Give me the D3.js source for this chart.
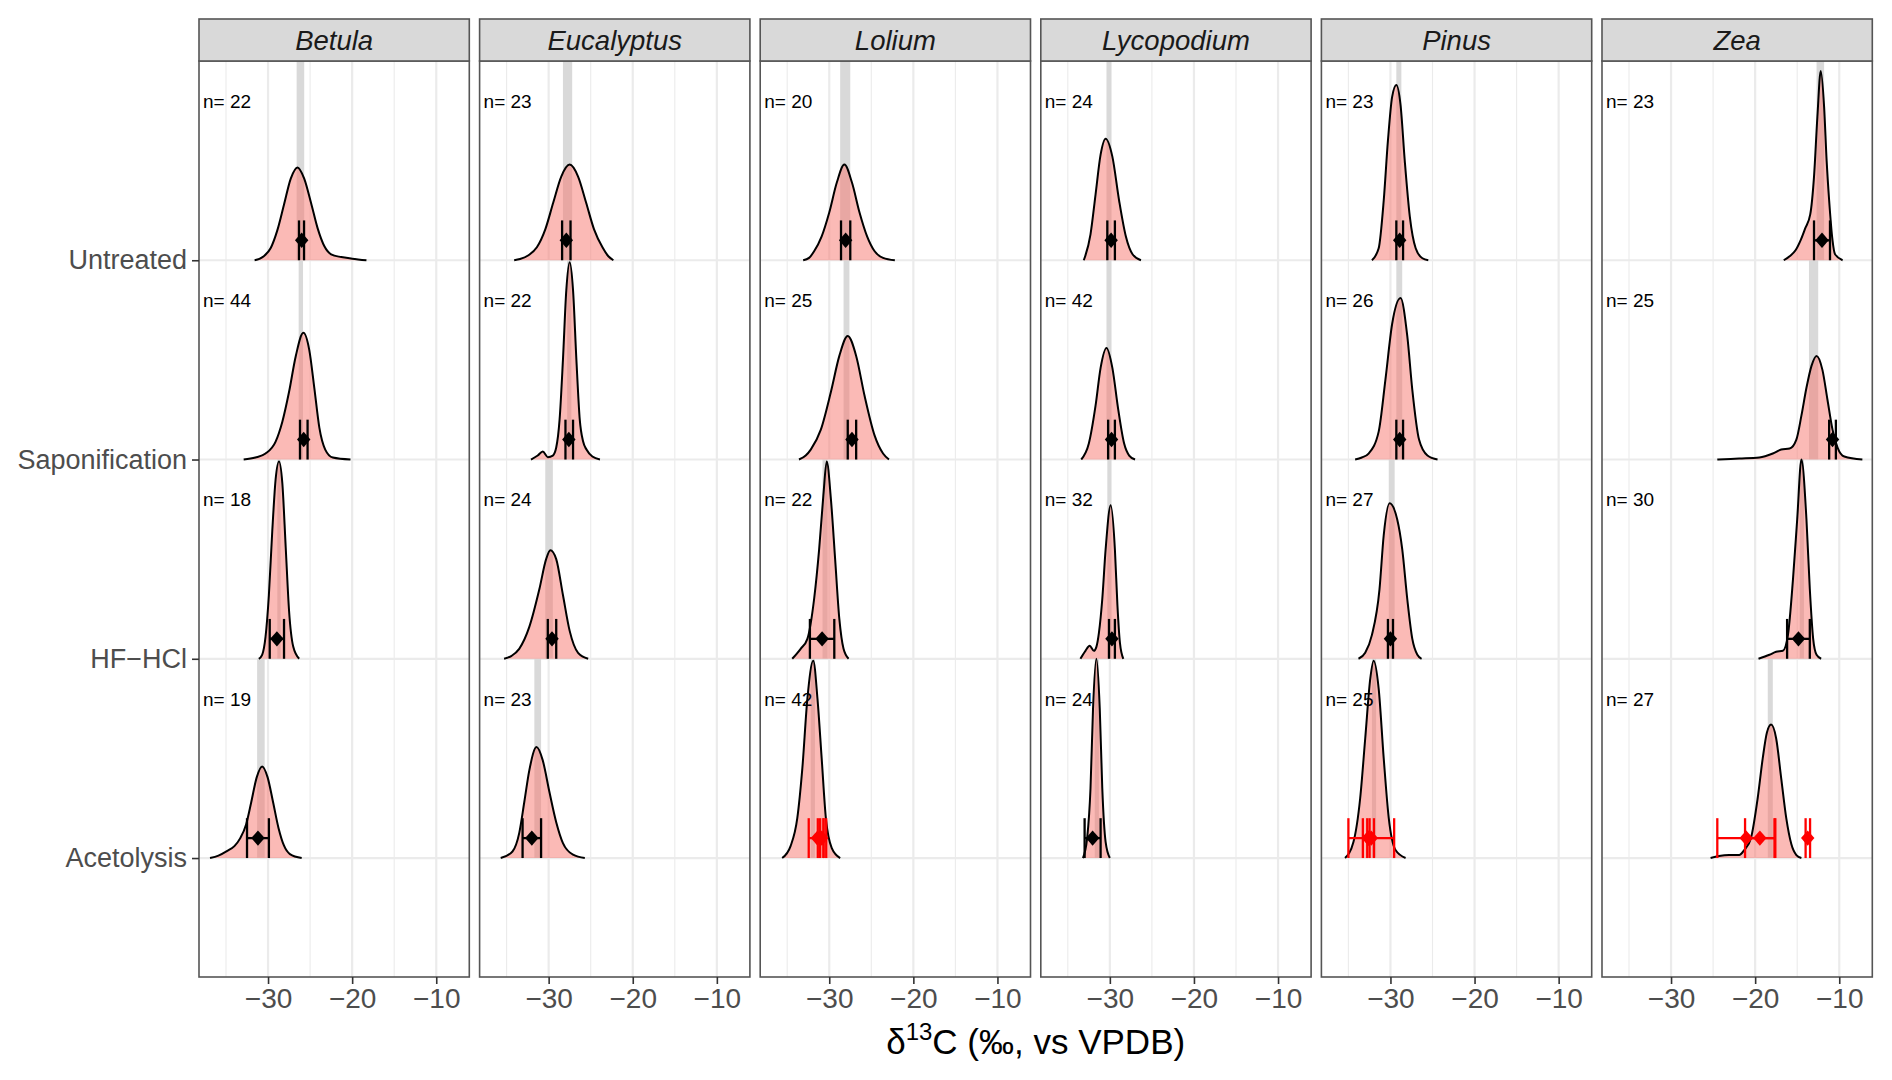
<!DOCTYPE html>
<html>
<head>
<meta charset="utf-8">
<script src="https://cdn.jsdelivr.net/npm/d3@7"></script>
<style>
  body { margin: 0; background: #fff; }
  text { font-family: "Liberation Sans", Arial, sans-serif; }
</style>
</head>
<body>
<div id="chart"></div>
<script>
// facets and rows
const panels = ["Betula", "Eucalyptus", "Lolium", "Lycopodium", "Pinus", "Zea"];
const treatments = ["Untreated", "Saponification", "HF\u2212HCl", "Acetolysis"];
const xTicks = [-30, -20, -10];

// sample sizes, per panel, per treatment
const nCounts = [
  [22, 44, 18, 19],
  [23, 22, 24, 23],
  [20, 25, 22, 42],
  [24, 42, 32, 24],
  [23, 26, 27, 25],
  [23, 25, 30, 27]
];

// grey reference bands [xmin, xmax]
const refBands = [
  [[-26.6, -25.7], [-26.36, -25.84], [-28.9, -28.5], [-31.3, -30.4]],
  [[-28.3, -27.2], [-27.8, -27.3], [-30.4, -29.5], [-31.7, -30.9]],
  [[-28.7, -27.5], [-28.3, -27.6], [-30.8, -30.2], [-32.2, -31.7]],
  [[-30.4, -29.8], [-30.4, -29.8], [-30.3, -29.8], [-31.8, -31.3]],
  [[-29.3, -28.7], [-29.3, -28.6], [-30.2, -29.5], [-32.2, -31.7]],
  [[-12.7, -11.8], [-13.6, -12.5], [-14.7, -14.2], [-18.5, -17.9]]
];

// mean +/- error [lo, mean, hi]; null where only flagged values exist
const meanBars = [
  [[-26.32, -26.0, -25.72], [-26.2, -25.76, -25.3], [-29.8, -28.95, -28.1], [-32.5, -31.2, -29.9]],
  [[-28.4, -27.9, -27.4], [-28.0, -27.6, -27.1], [-30.1, -29.6, -29.1], [-33.1, -32.0, -30.9]],
  [[-28.6, -28.05, -27.5], [-27.8, -27.3, -26.8], [-32.3, -30.85, -29.4], null],
  [[-30.3, -29.85, -29.4], [-30.2, -29.8, -29.4], [-30.1, -29.75, -29.4], [-33.0, -32.05, -31.1]],
  [[-29.3, -28.9, -28.5], [-29.3, -28.9, -28.5], [-30.3, -30.0, -29.7], null],
  [[-13.0, -12.05, -11.1], [-11.2, -10.8, -10.4], [-16.2, -14.85, -13.5], null]
];

// flagged (red) values, [panel, treatment, lo, mean, hi]
const flaggedBars = [
  [2, 3, -32.44, -31.4, -30.36],
  [2, 3, -31.36, -31.02, -30.68],
  [2, 3, -31.08, -30.88, -30.68],
  [4, 3, -35.0, -32.28, -29.56],
  [4, 3, -33.28, -32.62, -31.96],
  [4, 3, -32.76, -32.62, -32.48],
  [5, 3, -24.5, -21.06, -17.6],
  [5, 3, -21.2, -19.44, -17.7],
  [5, 3, -14.0, -13.75, -13.47]
];

// density ridges: [d13C, height in row units]
const ridgeBetula = [
  [[-31.6,0],[-30.5,0.02],[-29.7,0.06],[-28.9,0.15],[-28.1,0.28],[-27.3,0.41],[-26.5,0.466],[-25.7,0.41],[-24.9,0.29],[-24.1,0.16],[-23.3,0.07],[-22.5,0.03],[-21.3,0.016],[-20.0,0.008],[-18.3,0]],
  [[-32.9,0],[-31.5,0.01],[-30.3,0.03],[-29.1,0.09],[-28.3,0.19],[-27.5,0.34],[-26.7,0.52],[-25.8,0.636],[-25.1,0.55],[-24.5,0.36],[-23.9,0.16],[-23.2,0.05],[-22.3,0.01],[-20.2,0]],
  [[-31.1,0],[-30.7,0.02],[-30.3,0.11],[-29.9,0.32],[-29.5,0.64],[-29.1,0.9],[-28.7,0.99],[-28.3,0.88],[-27.9,0.56],[-27.5,0.24],[-27.0,0.06],[-26.3,0]],
  [[-36.9,0],[-35.9,0.012],[-34.9,0.035],[-34.0,0.06],[-33.3,0.1],[-32.6,0.17],[-32.0,0.28],[-31.35,0.405],[-30.7,0.46],[-30.05,0.405],[-29.4,0.28],[-28.75,0.15],[-28.1,0.062],[-27.4,0.02],[-26.0,0]]
];
const ridgeEucalyptus = [
  [[-34.1,0],[-33.4,0.006],[-32.4,0.025],[-31.4,0.065],[-30.4,0.155],[-29.45,0.29],[-28.5,0.42],[-27.5,0.48],[-26.5,0.42],[-25.55,0.29],[-24.6,0.155],[-23.6,0.065],[-22.9,0.02],[-22.3,0]],
  [[-32.1,0],[-31.3,0.02],[-30.7,0.04],[-30.1,0.012],[-29.5,0.02],[-29.1,0.06],[-28.7,0.2],[-28.3,0.5],[-27.9,0.85],[-27.5,0.99],[-27.1,0.85],[-26.7,0.5],[-26.3,0.2],[-25.9,0.09],[-25.5,0.05],[-24.8,0.015],[-23.9,0]],
  [[-35.3,0],[-34.4,0.015],[-33.5,0.05],[-32.3,0.16],[-31.1,0.35],[-30.3,0.5],[-29.8,0.545],[-29.1,0.5],[-28.3,0.32],[-27.5,0.14],[-26.5,0.03],[-25.3,0]],
  [[-35.7,0],[-34.3,0.033],[-33.5,0.125],[-32.9,0.28],[-32.3,0.44],[-31.44,0.557],[-30.7,0.49],[-29.9,0.33],[-29.1,0.18],[-28.3,0.075],[-27.1,0.017],[-25.7,0]]
];
const ridgeLolium = [
  [[-33.1,0],[-32.4,0.012],[-31.8,0.045],[-30.9,0.12],[-30.0,0.24],[-29.1,0.39],[-28.2,0.48],[-27.3,0.39],[-26.4,0.24],[-25.5,0.12],[-24.6,0.045],[-23.6,0.012],[-22.2,0]],
  [[-33.6,0],[-32.8,0.02],[-32.2,0.05],[-31.0,0.15],[-29.8,0.34],[-28.8,0.52],[-27.8,0.62],[-26.8,0.52],[-25.8,0.32],[-24.6,0.12],[-23.6,0.03],[-22.9,0]],
  [[-34.4,0],[-33.4,0.05],[-32.6,0.1],[-31.8,0.3],[-31.2,0.55],[-30.7,0.82],[-30.3,0.99],[-29.8,0.8],[-29.3,0.5],[-28.8,0.2],[-28.3,0.05],[-27.7,0]],
  [[-35.6,0],[-34.6,0.06],[-33.8,0.2],[-33.2,0.45],[-32.6,0.8],[-31.9,0.99],[-31.4,0.8],[-30.9,0.5],[-30.4,0.2],[-29.7,0.05],[-28.7,0]]
];
const ridgeLycopodium = [
  [[-33.1,0],[-32.3,0.13],[-31.7,0.33],[-31.1,0.53],[-30.5,0.61],[-29.7,0.52],[-28.9,0.3],[-28.1,0.12],[-27.3,0.03],[-26.3,0]],
  [[-33.4,0],[-32.5,0.08],[-31.7,0.27],[-31.1,0.46],[-30.4,0.56],[-29.7,0.46],[-29.0,0.25],[-28.3,0.08],[-27.7,0.02],[-27.0,0]],
  [[-33.5,0],[-32.9,0.04],[-32.4,0.065],[-31.9,0.04],[-31.6,0.06],[-31.3,0.13],[-30.9,0.3],[-30.5,0.55],[-29.9,0.77],[-29.4,0.55],[-29.1,0.27],[-28.8,0.08],[-28.4,0]],
  [[-33.2,0],[-32.7,0.1],[-32.3,0.35],[-32.0,0.75],[-31.6,1.0],[-31.2,0.75],[-30.9,0.35],[-30.5,0.08],[-30.0,0]]
];
const ridgePinus = [
  [[-32.2,0],[-31.4,0.06],[-30.8,0.3],[-30.3,0.6],[-29.8,0.82],[-29.3,0.88],[-28.8,0.78],[-28.3,0.5],[-27.7,0.22],[-27.0,0.06],[-26.2,0.01],[-25.5,0]],
  [[-34.2,0],[-33.4,0.01],[-32.6,0.03],[-31.4,0.14],[-30.6,0.4],[-29.8,0.68],[-28.8,0.81],[-28.0,0.62],[-27.4,0.35],[-26.6,0.1],[-25.6,0.02],[-24.4,0]],
  [[-33.8,0],[-33.0,0.03],[-32.2,0.12],[-31.3,0.35],[-30.8,0.62],[-30.1,0.78],[-29.2,0.7],[-28.6,0.55],[-28.0,0.3],[-27.4,0.1],[-26.8,0.02],[-26.3,0]],
  [[-35.4,0],[-34.4,0.08],[-33.6,0.3],[-33.0,0.6],[-32.4,0.9],[-32.0,0.99],[-31.4,0.85],[-30.8,0.5],[-30.2,0.2],[-29.4,0.04],[-28.2,0]]
];
const ridgeZea = [
  [[-16.6,0],[-15.9,0.02],[-15.2,0.05],[-14.6,0.1],[-14.05,0.16],[-13.45,0.23],[-13.0,0.42],[-12.6,0.72],[-12.2,0.95],[-11.8,0.77],[-11.5,0.5],[-11.2,0.3],[-10.8,0.1],[-10.5,0.03],[-9.6,0]],
  [[-24.5,0],[-21.9,0.005],[-19.5,0.01],[-17.9,0.03],[-16.9,0.05],[-15.9,0.055],[-15.1,0.1],[-14.5,0.22],[-13.9,0.36],[-13.3,0.47],[-12.7,0.52],[-12.0,0.45],[-11.4,0.3],[-10.8,0.15],[-10.2,0.06],[-9.4,0.015],[-7.25,0]],
  [[-19.6,0],[-18.3,0.02],[-17.5,0.035],[-16.7,0.04],[-16.1,0.12],[-15.5,0.4],[-15.0,0.7],[-14.5,1.0],[-13.9,0.7],[-13.5,0.35],[-13.1,0.1],[-12.7,0.02],[-12.15,0]],
  [[-25.3,0],[-24.3,0.01],[-23.1,0.015],[-21.9,0.015],[-21.3,0.04],[-20.5,0.1],[-19.7,0.3],[-19.1,0.5],[-18.6,0.63],[-18.1,0.67],[-17.5,0.6],[-16.9,0.4],[-16.3,0.2],[-15.7,0.07],[-15.1,0.015],[-14.5,0]]
];
const ridges = [ridgeBetula, ridgeEucalyptus, ridgeLolium, ridgeLycopodium, ridgePinus, ridgeZea];

function drawChart() {
  var width = 1892, height = 1080;
  var stripTop = 19, panelTop = 61, panelBottom = 977;
  var panelLeft = 199, panelW = 270.3, panelStep = 280.6;
  var panelH = panelBottom - panelTop;

  var svg = d3.select("#chart").append("svg")
    .attr("width", width)
    .attr("height", height);

  svg.append("rect").attr("width", width).attr("height", height).attr("fill", "#fff");

  var x = d3.scaleLinear().domain([-38.21, -6.07]).range([0, panelW]);
  var y = d3.scaleLinear().domain([0.403, 5]).range([panelH, 0]);
  // Untreated sits on top
  var rowPos = function(i) { return treatments.length - i; };

  var minorTicks = x.ticks(7).filter(function(t) { return xTicks.indexOf(t) < 0; });

  var area = d3.area()
    .curve(d3.curveMonotoneX)
    .x(function(d) { return x(d[0]); });
  var line = d3.line()
    .curve(d3.curveMonotoneX)
    .x(function(d) { return x(d[0]); });

  var diamond = d3.symbol().type(d3.symbolDiamond2).size(115);

  panels.forEach(function(name, p) {
    var g = svg.append("g")
      .attr("transform", "translate(" + (panelLeft + p * panelStep) + "," + panelTop + ")");

    // grid
    g.selectAll(".minor").data(minorTicks).enter().append("line")
      .attr("x1", function(d) { return x(d); }).attr("x2", function(d) { return x(d); })
      .attr("y1", 0).attr("y2", panelH)
      .attr("stroke", "#ebebeb").attr("stroke-width", 1.1);
    g.selectAll(".major").data(xTicks).enter().append("line")
      .attr("x1", function(d) { return x(d); }).attr("x2", function(d) { return x(d); })
      .attr("y1", 0).attr("y2", panelH)
      .attr("stroke", "#ebebeb").attr("stroke-width", 2.2);
    g.selectAll(".hgrid").data(treatments).enter().append("line")
      .attr("x1", 0).attr("x2", panelW)
      .attr("y1", function(d, i) { return y(rowPos(i)); })
      .attr("y2", function(d, i) { return y(rowPos(i)); })
      .attr("stroke", "#ebebeb").attr("stroke-width", 2.2);

    // reference bands
    g.selectAll(".band").data(refBands[p]).enter().append("rect")
      .attr("x", function(d) { return x(d[0]); })
      .attr("width", function(d) { return x(d[1]) - x(d[0]); })
      .attr("y", function(d, i) { return y(rowPos(i) + 1); })
      .attr("height", function(d, i) { return y(rowPos(i)) - y(rowPos(i) + 1); })
      .attr("fill", "#d9d9d9");

    // ridges, top row first so lower rows lie in front
    ridges[p].forEach(function(pts, i) {
      var pos = rowPos(i);
      area.y0(y(pos)).y1(function(d) { return y(pos + d[1]); });
      line.y(function(d) { return y(pos + d[1]); });
      g.append("path").datum(pts)
        .attr("d", area)
        .attr("fill", "#F8766D").attr("fill-opacity", 0.5);
      g.append("path").datum(pts)
        .attr("d", line)
        .attr("fill", "none").attr("stroke", "#000").attr("stroke-width", 2);
    });

    // error bars
    function errBar(b, i, colour) {
      var pos = rowPos(i);
      var eb = g.append("g").attr("stroke", colour).attr("stroke-width", 2.3);
      eb.append("line")
        .attr("x1", x(b[0])).attr("x2", x(b[2]))
        .attr("y1", y(pos + 0.1)).attr("y2", y(pos + 0.1));
      [b[0], b[2]].forEach(function(v) {
        eb.append("line")
          .attr("x1", x(v)).attr("x2", x(v))
          .attr("y1", y(pos)).attr("y2", y(pos + 0.2));
      });
      g.append("path")
        .attr("d", diamond)
        .attr("transform", "translate(" + x(b[1]) + "," + y(pos + 0.1) + ") scale(1,1.15)")
        .attr("fill", colour);
    }
    meanBars[p].forEach(function(b, i) { if (b) errBar(b, i, "#000"); });
    flaggedBars.filter(function(f) { return f[0] === p; }).forEach(function(f) {
      errBar([f[2], f[3], f[4]], f[1], "#ff0000");
    });

    // n labels
    g.selectAll(".nlab").data(nCounts[p]).enter().append("text")
      .attr("x", 4)
      .attr("y", function(d, i) { return y(rowPos(i) + 0.765); })
      .attr("font-size", 19)
      .attr("fill", "#000")
      .text(function(d) { return "n= " + d; });

    // panel border
    g.append("rect")
      .attr("width", panelW).attr("height", panelH)
      .attr("fill", "none").attr("stroke", "#555").attr("stroke-width", 1.6);

    // strip
    g.append("rect")
      .attr("y", stripTop - panelTop).attr("width", panelW).attr("height", panelTop - stripTop)
      .attr("fill", "#d9d9d9").attr("stroke", "#555").attr("stroke-width", 1.6);
    g.append("text")
      .attr("x", panelW / 2).attr("y", -11)
      .attr("text-anchor", "middle")
      .attr("font-size", 27.5).attr("font-style", "italic")
      .attr("fill", "#1a1a1a")
      .text(name);

    // x axis
    var xAxis = d3.axisBottom(x).tickValues(xTicks).tickSize(7).tickPadding(4)
      .tickFormat(function(d) { return String(d).replace("-", "\u2212"); });
    var ax = g.append("g").attr("transform", "translate(0," + panelH + ")").call(xAxis);
    ax.select(".domain").remove();
    ax.selectAll(".tick line").attr("stroke", "#333").attr("stroke-width", 1.6);
    ax.selectAll(".tick text")
      .attr("font-size", 28).attr("fill", "#4d4d4d")
      .attr("font-family", "Liberation Sans, Arial, sans-serif");

    // y axis on first panel
    if (p === 0) {
      var yAxis = d3.axisLeft(y).tickValues(treatments.map(function(t, i) { return rowPos(i); }))
        .tickSize(7).tickPadding(5)
        .tickFormat(function(d) { return treatments[treatments.length - d]; });
      var ay = g.append("g").call(yAxis);
      ay.select(".domain").remove();
      ay.selectAll(".tick line").attr("stroke", "#333").attr("stroke-width", 1.6);
      ay.selectAll(".tick text")
        .attr("font-size", 27).attr("fill", "#4d4d4d")
        .attr("font-family", "Liberation Sans, Arial, sans-serif");
    }
  });

  // axis title
  var title = svg.append("text")
    .attr("x", panelLeft + (5 * panelStep + panelW) / 2)
    .attr("y", 1054)
    .attr("text-anchor", "middle")
    .attr("font-size", 35)
    .attr("fill", "#000");
  title.append("tspan").text("\u03b4");
  title.append("tspan").attr("font-size", 24).attr("dy", -14).text("13");
  title.append("tspan").attr("dy", 14).text("C (\u2030, vs VPDB)");
}

drawChart();
</script>
</body>
</html>
